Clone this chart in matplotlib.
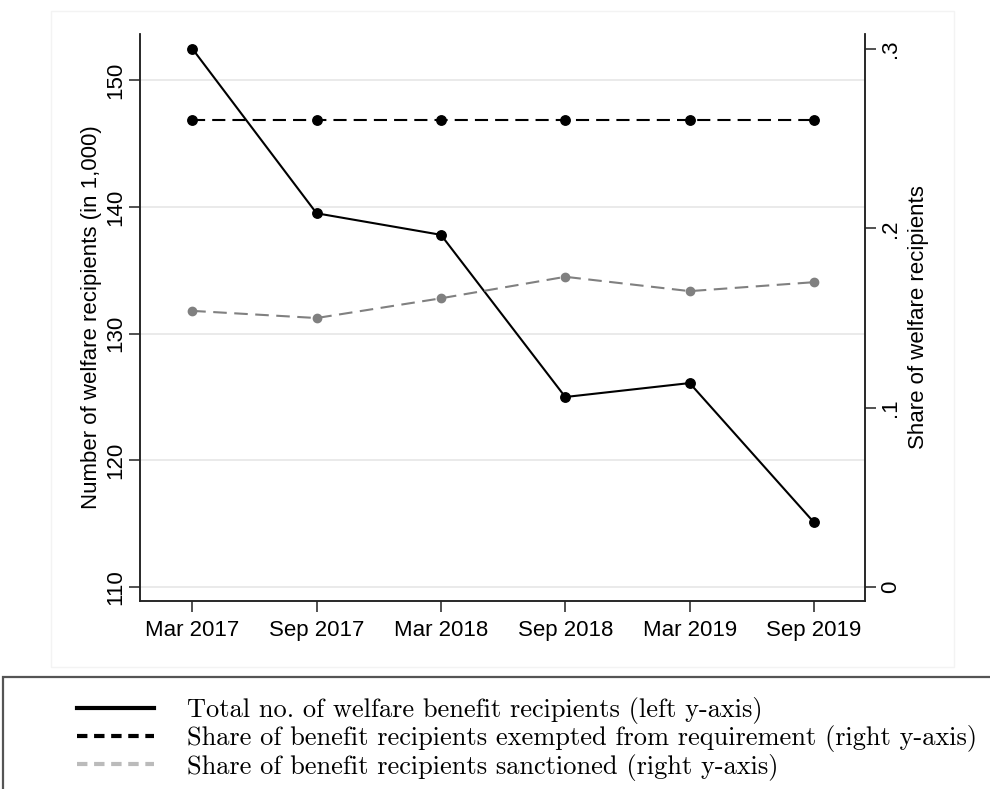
import matplotlib
matplotlib.use("Agg")
import matplotlib.pyplot as plt
from matplotlib.lines import Line2D
from matplotlib.patches import Rectangle

# data
periods = ["Mar 2017", "Sep 2017", "Mar 2018", "Sep 2018", "Mar 2019", "Sep 2019"]
total_recipients = [152.5, 139.5, 137.8, 125.0, 126.1, 115.1]    # left axis, in 1,000
share_exempted = [0.2605, 0.2605, 0.2605, 0.2605, 0.2605, 0.2605]  # right axis
share_sanctioned = [0.154, 0.150, 0.161, 0.173, 0.165, 0.170]    # right axis

left_ticks = [110, 120, 130, 140, 150]
right_ticks = [0, 0.1, 0.2, 0.3]
right_ticklabels = ["0", ".1", ".2", ".3"]

legend_labels = [
    "Total no. of welfare benefit recipients (left y-axis)",
    "Share of benefit recipients exempted from requirement (right y-axis)",
    "Share of benefit recipients sanctioned (right y-axis)",
]

plt.rcParams["font.family"] = ["Liberation Sans", "DejaVu Sans"]
plt.rcParams["font.size"] = 16

fig = plt.figure(figsize=(9.9, 7.89), dpi=100)
W, H = 990, 789

# faint Stata graph region
fig.patches.append(Rectangle((51 / W, 1 - 667 / H), (954 - 51) / W, (667 - 11) / H,
                             transform=fig.transFigure, fill=False,
                             edgecolor="#f3f3f3", lw=1.0, zorder=0))

ax = fig.add_axes([140 / W, 1 - 601 / H, (865 - 140) / W, (601 - 34) / H])
ax2 = ax.twinx()

x = list(range(len(periods)))

ax.plot(x, total_recipients, color="black", lw=1.5, marker="o", ms=6.8, zorder=3)
ax2.plot(x, share_exempted, color="black", lw=1.5, marker="o", ms=6.8,
         dashes=(6.3, 3.4), zorder=3)
ax2.plot(x, share_sanctioned, color="#808080", lw=1.5, marker="o", ms=6.0,
         dashes=(6.5, 3.6), zorder=3)

ax.set_xlim(-0.42, 5.41)
ax.set_ylim(108.9, 153.65)
ax2.set_ylim(-0.0078, 0.3084)

ax.set_xticks(x)
ax.set_xticklabels(periods)
ax.set_yticks(left_ticks)
ax2.set_yticks(right_ticks)
ax2.set_yticklabels(right_ticklabels)

ax.grid(axis="y", color="#e6e6e6", lw=1.2)
ax.set_axisbelow(True)

for a in (ax, ax2):
    a.spines["top"].set_visible(False)
    for s in ("left", "right", "bottom"):
        a.spines[s].set_linewidth(1.1)
        a.spines[s].set_color("#222222")
    a.tick_params(length=8, width=1.1, color="#222222")

ax.tick_params(axis="y", labelrotation=90, pad=2)
ax2.tick_params(axis="y", labelrotation=90, pad=3)
ax.tick_params(axis="x", pad=6)
for lab in ax.get_yticklabels() + ax2.get_yticklabels():
    lab.set_verticalalignment("center")

ax.set_ylabel("Number of welfare recipients (in 1,000)", labelpad=2)
ax2.set_ylabel("Share of welfare recipients", rotation=90, labelpad=4.5)
ax.patch.set_visible(False)

# legend box, runs past the right and bottom edge like in the reference
fig.patches.append(Rectangle((3 / W, -0.05), 1.1, (1 - 677 / H) + 0.05,
                             transform=fig.transFigure, fill=False,
                             edgecolor="#555555", lw=1.6, zorder=1))

handles = [
    Line2D([], [], color="black", lw=3.0),
    Line2D([], [], color="black", lw=3.0, dashes=(2.5, 1.6)),
    Line2D([], [], color="#bbbbbb", lw=3.0, dashes=(2.5, 1.6)),
]
fig.legend(handles, legend_labels, loc="upper left", bbox_to_anchor=(77 / W, 1 - 697 / H),
           frameon=False, handlelength=2.9, handletextpad=1.25, labelspacing=0.05,
           borderaxespad=0, borderpad=0,
           prop={"family": ["cmr10", "DejaVu Serif"], "size": 19})

fig.savefig("out.png", dpi=100)
